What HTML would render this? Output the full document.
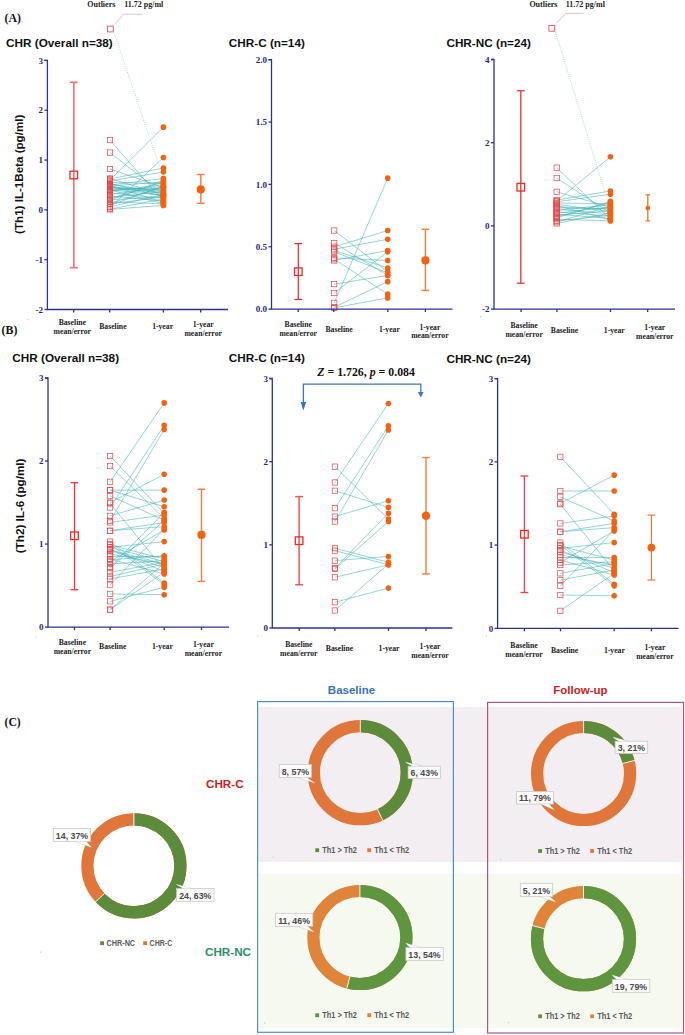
<!DOCTYPE html><html><head><meta charset="utf-8"><style>html,body{margin:0;padding:0;background:#fff;width:685px;height:1035px;overflow:hidden}svg{display:block}.ttl{font:bold 11.75px "Liberation Sans",sans-serif;fill:#111}.tk{font:bold 9px "Liberation Serif",serif;fill:#25287f;text-anchor:end}.xl{font:bold 7.7px "Liberation Serif",serif;fill:#222;text-anchor:middle}.ol{font:bold 8px "Liberation Serif",serif;fill:#222}.pl{font:bold 11px "Liberation Serif",serif;fill:#111}.dl{font:bold 8.8px "Liberation Sans",sans-serif;fill:#4a4a4a;text-anchor:middle}.lg{font:bold 8.3px "Liberation Sans",sans-serif;fill:#595959}.hd{font:bold 11px "Liberation Sans",sans-serif}</style></head><body>
<svg width="685" height="1035" viewBox="0 0 685 1035">
<rect width="685" height="1035" fill="#fff"/>
<text x="4.6" y="21.6" class="pl" style="font-size:11.8px">(A)</text>
<text x="1.6" y="334.4" class="pl" style="font-size:11.8px">(B)</text>
<text transform="translate(23.3,174.3) rotate(-90)" text-anchor="middle" style="font:bold 11.6px 'Liberation Sans',sans-serif;fill:#111">(Th1) IL-1Beta (pg/ml)</text>
<text transform="translate(23.6,505.9) rotate(-90)" text-anchor="middle" style="font:bold 11.7px 'Liberation Sans',sans-serif;fill:#111">(Th2) IL-6 (pg/ml)</text>
<line x1="110" y1="178.47" x2="163.4" y2="194.91" stroke="#3fb2b6" stroke-width="0.55"/>
<line x1="110" y1="183.46" x2="163.4" y2="196.41" stroke="#3fb2b6" stroke-width="0.55"/>
<line x1="110" y1="184.95" x2="163.4" y2="178.47" stroke="#3fb2b6" stroke-width="0.55"/>
<line x1="110" y1="185.95" x2="163.4" y2="181.96" stroke="#3fb2b6" stroke-width="0.55"/>
<line x1="110" y1="186.44" x2="163.4" y2="193.42" stroke="#3fb2b6" stroke-width="0.55"/>
<line x1="110" y1="186.94" x2="163.4" y2="195.41" stroke="#3fb2b6" stroke-width="0.55"/>
<line x1="110" y1="189.43" x2="163.4" y2="190.43" stroke="#3fb2b6" stroke-width="0.55"/>
<line x1="110" y1="189.93" x2="163.4" y2="203.88" stroke="#3fb2b6" stroke-width="0.55"/>
<line x1="110" y1="190.43" x2="163.4" y2="186.44" stroke="#3fb2b6" stroke-width="0.55"/>
<line x1="110" y1="199.90" x2="163.4" y2="196.41" stroke="#3fb2b6" stroke-width="0.55"/>
<line x1="110" y1="203.38" x2="163.4" y2="186.94" stroke="#3fb2b6" stroke-width="0.55"/>
<line x1="110" y1="207.37" x2="163.4" y2="157.55" stroke="#3fb2b6" stroke-width="0.55"/>
<line x1="110" y1="209.11" x2="163.4" y2="198.90" stroke="#3fb2b6" stroke-width="0.55"/>
<line x1="110" y1="209.36" x2="163.4" y2="205.38" stroke="#3fb2b6" stroke-width="0.55"/>
<line x1="110" y1="140.11" x2="163.4" y2="201.39" stroke="#3fb2b6" stroke-width="0.55"/>
<line x1="110" y1="152.57" x2="163.4" y2="194.42" stroke="#3fb2b6" stroke-width="0.55"/>
<line x1="110" y1="169.01" x2="163.4" y2="187.44" stroke="#3fb2b6" stroke-width="0.55"/>
<line x1="110" y1="178.97" x2="163.4" y2="168.01" stroke="#3fb2b6" stroke-width="0.55"/>
<line x1="110" y1="179.97" x2="163.4" y2="127.16" stroke="#3fb2b6" stroke-width="0.55"/>
<line x1="110" y1="180.96" x2="163.4" y2="172.00" stroke="#3fb2b6" stroke-width="0.55"/>
<line x1="110" y1="182.46" x2="163.4" y2="183.46" stroke="#3fb2b6" stroke-width="0.55"/>
<line x1="110" y1="183.95" x2="163.4" y2="192.92" stroke="#3fb2b6" stroke-width="0.55"/>
<line x1="110" y1="185.45" x2="163.4" y2="202.39" stroke="#3fb2b6" stroke-width="0.55"/>
<line x1="110" y1="186.94" x2="163.4" y2="189.93" stroke="#3fb2b6" stroke-width="0.55"/>
<line x1="110" y1="188.44" x2="163.4" y2="188.94" stroke="#3fb2b6" stroke-width="0.55"/>
<line x1="110" y1="189.93" x2="163.4" y2="195.41" stroke="#3fb2b6" stroke-width="0.55"/>
<line x1="110" y1="191.43" x2="163.4" y2="184.45" stroke="#3fb2b6" stroke-width="0.55"/>
<line x1="110" y1="192.92" x2="163.4" y2="198.40" stroke="#3fb2b6" stroke-width="0.55"/>
<line x1="110" y1="194.42" x2="163.4" y2="187.44" stroke="#3fb2b6" stroke-width="0.55"/>
<line x1="110" y1="195.91" x2="163.4" y2="200.89" stroke="#3fb2b6" stroke-width="0.55"/>
<line x1="110" y1="197.41" x2="163.4" y2="191.43" stroke="#3fb2b6" stroke-width="0.55"/>
<line x1="110" y1="198.90" x2="163.4" y2="181.96" stroke="#3fb2b6" stroke-width="0.55"/>
<line x1="110" y1="200.39" x2="163.4" y2="180.47" stroke="#3fb2b6" stroke-width="0.55"/>
<line x1="110" y1="201.89" x2="163.4" y2="203.88" stroke="#3fb2b6" stroke-width="0.55"/>
<line x1="110" y1="203.88" x2="163.4" y2="196.91" stroke="#3fb2b6" stroke-width="0.55"/>
<line x1="110" y1="205.38" x2="163.4" y2="185.95" stroke="#3fb2b6" stroke-width="0.55"/>
<line x1="110" y1="206.87" x2="163.4" y2="194.42" stroke="#3fb2b6" stroke-width="0.55"/>
<line x1="113.3" y1="30.5" x2="159.4" y2="166.52" stroke="#5aa9ae" stroke-width="0.6" stroke-dasharray="0.8 1.4"/>
<rect x="107.39999999999999" y="26.1" width="5.8" height="5.8" fill="none" stroke="#ea4444" stroke-width="0.8"/>
<polyline points="114.8,24 123.8,14.2 142.5,14.2" fill="none" stroke="#d4b8a6" stroke-width="0.8"/>
<text x="87.3" y="7" class="ol">Outliers</text>
<text x="124.2" y="7" class="ol">11.72 pg/ml</text>
<rect x="107.35" y="175.82" width="5.3" height="5.3" fill="none" stroke="#ea4444" stroke-width="0.7"/>
<rect x="107.35" y="180.81" width="5.3" height="5.3" fill="none" stroke="#ea4444" stroke-width="0.7"/>
<rect x="107.35" y="182.30" width="5.3" height="5.3" fill="none" stroke="#ea4444" stroke-width="0.7"/>
<rect x="107.35" y="183.30" width="5.3" height="5.3" fill="none" stroke="#ea4444" stroke-width="0.7"/>
<rect x="107.35" y="183.79" width="5.3" height="5.3" fill="none" stroke="#ea4444" stroke-width="0.7"/>
<rect x="107.35" y="184.29" width="5.3" height="5.3" fill="none" stroke="#ea4444" stroke-width="0.7"/>
<rect x="107.35" y="186.78" width="5.3" height="5.3" fill="none" stroke="#ea4444" stroke-width="0.7"/>
<rect x="107.35" y="187.28" width="5.3" height="5.3" fill="none" stroke="#ea4444" stroke-width="0.7"/>
<rect x="107.35" y="187.78" width="5.3" height="5.3" fill="none" stroke="#ea4444" stroke-width="0.7"/>
<rect x="107.35" y="197.25" width="5.3" height="5.3" fill="none" stroke="#ea4444" stroke-width="0.7"/>
<rect x="107.35" y="200.73" width="5.3" height="5.3" fill="none" stroke="#ea4444" stroke-width="0.7"/>
<rect x="107.35" y="204.72" width="5.3" height="5.3" fill="none" stroke="#ea4444" stroke-width="0.7"/>
<rect x="107.35" y="206.46" width="5.3" height="5.3" fill="none" stroke="#ea4444" stroke-width="0.7"/>
<rect x="107.35" y="206.71" width="5.3" height="5.3" fill="none" stroke="#ea4444" stroke-width="0.7"/>
<rect x="107.35" y="137.46" width="5.3" height="5.3" fill="none" stroke="#ea4444" stroke-width="0.7"/>
<rect x="107.35" y="149.92" width="5.3" height="5.3" fill="none" stroke="#ea4444" stroke-width="0.7"/>
<rect x="107.35" y="166.36" width="5.3" height="5.3" fill="none" stroke="#ea4444" stroke-width="0.7"/>
<rect x="107.35" y="176.32" width="5.3" height="5.3" fill="none" stroke="#ea4444" stroke-width="0.7"/>
<rect x="107.35" y="177.32" width="5.3" height="5.3" fill="none" stroke="#ea4444" stroke-width="0.7"/>
<rect x="107.35" y="178.31" width="5.3" height="5.3" fill="none" stroke="#ea4444" stroke-width="0.7"/>
<rect x="107.35" y="179.81" width="5.3" height="5.3" fill="none" stroke="#ea4444" stroke-width="0.7"/>
<rect x="107.35" y="181.30" width="5.3" height="5.3" fill="none" stroke="#ea4444" stroke-width="0.7"/>
<rect x="107.35" y="182.80" width="5.3" height="5.3" fill="none" stroke="#ea4444" stroke-width="0.7"/>
<rect x="107.35" y="184.29" width="5.3" height="5.3" fill="none" stroke="#ea4444" stroke-width="0.7"/>
<rect x="107.35" y="185.79" width="5.3" height="5.3" fill="none" stroke="#ea4444" stroke-width="0.7"/>
<rect x="107.35" y="187.28" width="5.3" height="5.3" fill="none" stroke="#ea4444" stroke-width="0.7"/>
<rect x="107.35" y="188.78" width="5.3" height="5.3" fill="none" stroke="#ea4444" stroke-width="0.7"/>
<rect x="107.35" y="190.27" width="5.3" height="5.3" fill="none" stroke="#ea4444" stroke-width="0.7"/>
<rect x="107.35" y="191.77" width="5.3" height="5.3" fill="none" stroke="#ea4444" stroke-width="0.7"/>
<rect x="107.35" y="193.26" width="5.3" height="5.3" fill="none" stroke="#ea4444" stroke-width="0.7"/>
<rect x="107.35" y="194.75" width="5.3" height="5.3" fill="none" stroke="#ea4444" stroke-width="0.7"/>
<rect x="107.35" y="196.25" width="5.3" height="5.3" fill="none" stroke="#ea4444" stroke-width="0.7"/>
<rect x="107.35" y="197.74" width="5.3" height="5.3" fill="none" stroke="#ea4444" stroke-width="0.7"/>
<rect x="107.35" y="199.24" width="5.3" height="5.3" fill="none" stroke="#ea4444" stroke-width="0.7"/>
<rect x="107.35" y="201.23" width="5.3" height="5.3" fill="none" stroke="#ea4444" stroke-width="0.7"/>
<rect x="107.35" y="202.73" width="5.3" height="5.3" fill="none" stroke="#ea4444" stroke-width="0.7"/>
<rect x="107.35" y="204.22" width="5.3" height="5.3" fill="none" stroke="#ea4444" stroke-width="0.7"/>
<circle cx="163.4" cy="194.91" r="2.8" fill="#f5620f"/>
<circle cx="163.4" cy="196.41" r="2.8" fill="#f5620f"/>
<circle cx="163.4" cy="178.47" r="2.8" fill="#f5620f"/>
<circle cx="163.4" cy="181.96" r="2.8" fill="#f5620f"/>
<circle cx="163.4" cy="193.42" r="2.8" fill="#f5620f"/>
<circle cx="163.4" cy="195.41" r="2.8" fill="#f5620f"/>
<circle cx="163.4" cy="190.43" r="2.8" fill="#f5620f"/>
<circle cx="163.4" cy="203.88" r="2.8" fill="#f5620f"/>
<circle cx="163.4" cy="186.44" r="2.8" fill="#f5620f"/>
<circle cx="163.4" cy="196.41" r="2.8" fill="#f5620f"/>
<circle cx="163.4" cy="186.94" r="2.8" fill="#f5620f"/>
<circle cx="163.4" cy="157.55" r="2.8" fill="#f5620f"/>
<circle cx="163.4" cy="198.90" r="2.8" fill="#f5620f"/>
<circle cx="163.4" cy="205.38" r="2.8" fill="#f5620f"/>
<circle cx="163.4" cy="201.39" r="2.8" fill="#f5620f"/>
<circle cx="163.4" cy="194.42" r="2.8" fill="#f5620f"/>
<circle cx="163.4" cy="187.44" r="2.8" fill="#f5620f"/>
<circle cx="163.4" cy="168.01" r="2.8" fill="#f5620f"/>
<circle cx="163.4" cy="127.16" r="2.8" fill="#f5620f"/>
<circle cx="163.4" cy="172.00" r="2.8" fill="#f5620f"/>
<circle cx="163.4" cy="183.46" r="2.8" fill="#f5620f"/>
<circle cx="163.4" cy="192.92" r="2.8" fill="#f5620f"/>
<circle cx="163.4" cy="202.39" r="2.8" fill="#f5620f"/>
<circle cx="163.4" cy="189.93" r="2.8" fill="#f5620f"/>
<circle cx="163.4" cy="188.94" r="2.8" fill="#f5620f"/>
<circle cx="163.4" cy="195.41" r="2.8" fill="#f5620f"/>
<circle cx="163.4" cy="184.45" r="2.8" fill="#f5620f"/>
<circle cx="163.4" cy="198.40" r="2.8" fill="#f5620f"/>
<circle cx="163.4" cy="187.44" r="2.8" fill="#f5620f"/>
<circle cx="163.4" cy="200.89" r="2.8" fill="#f5620f"/>
<circle cx="163.4" cy="191.43" r="2.8" fill="#f5620f"/>
<circle cx="163.4" cy="181.96" r="2.8" fill="#f5620f"/>
<circle cx="163.4" cy="180.47" r="2.8" fill="#f5620f"/>
<circle cx="163.4" cy="203.88" r="2.8" fill="#f5620f"/>
<circle cx="163.4" cy="196.91" r="2.8" fill="#f5620f"/>
<circle cx="163.4" cy="185.95" r="2.8" fill="#f5620f"/>
<circle cx="163.4" cy="194.42" r="2.8" fill="#f5620f"/>
<g stroke="#f36e6e" stroke-width="1.6" fill="none"><line x1="73.8" y1="82.32" x2="73.8" y2="267.65"/><line x1="69.89999999999999" y1="82.32" x2="77.7" y2="82.32"/><line x1="69.89999999999999" y1="267.65" x2="77.7" y2="267.65"/></g>
<rect x="70.0" y="171.19" width="7.6" height="7.6" fill="none" stroke="#ee2a24" stroke-width="1.3"/>
<g stroke="#f3813f" stroke-width="1.45" fill="none"><line x1="200.8" y1="174.49" x2="200.8" y2="203.38"/><line x1="196.9" y1="174.49" x2="204.70000000000002" y2="174.49"/><line x1="196.9" y1="203.38" x2="204.70000000000002" y2="203.38"/></g>
<circle cx="200.8" cy="189.43" r="4.1" fill="#f5620f"/>
<g stroke="#2e3192" stroke-width="1.3" fill="none"><polyline points="44.4,60.4 47.4,60.4 47.4,309.5 228,309.5"/>
<line x1="44.4" y1="60.40" x2="47.4" y2="60.40"/>
<line x1="44.4" y1="110.22" x2="47.4" y2="110.22"/>
<line x1="44.4" y1="160.04" x2="47.4" y2="160.04"/>
<line x1="44.4" y1="209.86" x2="47.4" y2="209.86"/>
<line x1="44.4" y1="259.68" x2="47.4" y2="259.68"/>
<line x1="44.4" y1="309.50" x2="47.4" y2="309.50"/>
<line x1="73.7" y1="309.5" x2="73.7" y2="312.5"/>
<line x1="109.7" y1="309.5" x2="109.7" y2="312.5"/>
<line x1="163.4" y1="309.5" x2="163.4" y2="312.5"/>
<line x1="200.7" y1="309.5" x2="200.7" y2="312.5"/>
</g>
<text x="43.0" y="63.65" class="tk">3</text>
<text x="43.0" y="113.47" class="tk">2</text>
<text x="43.0" y="163.29" class="tk">1</text>
<text x="43.0" y="213.11" class="tk">0</text>
<text x="43.0" y="262.93" class="tk">-1</text>
<text x="43.0" y="312.75" class="tk">-2</text>
<text x="72.3" y="325.1" class="xl">Baseline</text>
<text x="72.3" y="333.6" class="xl">mean/error</text>
<text x="112.9" y="329.20000000000005" class="xl">Baseline</text>
<text x="162.6" y="329.20000000000005" class="xl">1-year</text>
<text x="203.2" y="326.8" class="xl">1-year</text>
<text x="203.2" y="335.6" class="xl">mean/error</text>
<text x="6" y="47" class="ttl">CHR (Overall n=38)</text>
<line x1="334.2" y1="230.54" x2="387.7" y2="271.69" stroke="#3fb2b6" stroke-width="0.55"/>
<line x1="334.2" y1="243.01" x2="387.7" y2="275.43" stroke="#3fb2b6" stroke-width="0.55"/>
<line x1="334.2" y1="246.75" x2="387.7" y2="230.54" stroke="#3fb2b6" stroke-width="0.55"/>
<line x1="334.2" y1="249.24" x2="387.7" y2="239.27" stroke="#3fb2b6" stroke-width="0.55"/>
<line x1="334.2" y1="250.49" x2="387.7" y2="267.95" stroke="#3fb2b6" stroke-width="0.55"/>
<line x1="334.2" y1="251.74" x2="387.7" y2="272.94" stroke="#3fb2b6" stroke-width="0.55"/>
<line x1="334.2" y1="257.97" x2="387.7" y2="260.47" stroke="#3fb2b6" stroke-width="0.55"/>
<line x1="334.2" y1="259.22" x2="387.7" y2="294.14" stroke="#3fb2b6" stroke-width="0.55"/>
<line x1="334.2" y1="260.47" x2="387.7" y2="250.49" stroke="#3fb2b6" stroke-width="0.55"/>
<line x1="334.2" y1="284.16" x2="387.7" y2="275.43" stroke="#3fb2b6" stroke-width="0.55"/>
<line x1="334.2" y1="292.89" x2="387.7" y2="251.74" stroke="#3fb2b6" stroke-width="0.55"/>
<line x1="334.2" y1="302.87" x2="387.7" y2="178.17" stroke="#3fb2b6" stroke-width="0.55"/>
<line x1="334.2" y1="307.23" x2="387.7" y2="281.67" stroke="#3fb2b6" stroke-width="0.55"/>
<line x1="334.2" y1="307.85" x2="387.7" y2="297.88" stroke="#3fb2b6" stroke-width="0.55"/>
<rect x="331.55" y="227.89" width="5.3" height="5.3" fill="none" stroke="#ea4444" stroke-width="0.7"/>
<rect x="331.55" y="240.36" width="5.3" height="5.3" fill="none" stroke="#ea4444" stroke-width="0.7"/>
<rect x="331.55" y="244.10" width="5.3" height="5.3" fill="none" stroke="#ea4444" stroke-width="0.7"/>
<rect x="331.55" y="246.59" width="5.3" height="5.3" fill="none" stroke="#ea4444" stroke-width="0.7"/>
<rect x="331.55" y="247.84" width="5.3" height="5.3" fill="none" stroke="#ea4444" stroke-width="0.7"/>
<rect x="331.55" y="249.09" width="5.3" height="5.3" fill="none" stroke="#ea4444" stroke-width="0.7"/>
<rect x="331.55" y="255.32" width="5.3" height="5.3" fill="none" stroke="#ea4444" stroke-width="0.7"/>
<rect x="331.55" y="256.57" width="5.3" height="5.3" fill="none" stroke="#ea4444" stroke-width="0.7"/>
<rect x="331.55" y="257.82" width="5.3" height="5.3" fill="none" stroke="#ea4444" stroke-width="0.7"/>
<rect x="331.55" y="281.51" width="5.3" height="5.3" fill="none" stroke="#ea4444" stroke-width="0.7"/>
<rect x="331.55" y="290.24" width="5.3" height="5.3" fill="none" stroke="#ea4444" stroke-width="0.7"/>
<rect x="331.55" y="300.22" width="5.3" height="5.3" fill="none" stroke="#ea4444" stroke-width="0.7"/>
<rect x="331.55" y="304.58" width="5.3" height="5.3" fill="none" stroke="#ea4444" stroke-width="0.7"/>
<rect x="331.55" y="305.20" width="5.3" height="5.3" fill="none" stroke="#ea4444" stroke-width="0.7"/>
<circle cx="387.7" cy="271.69" r="2.8" fill="#f5620f"/>
<circle cx="387.7" cy="275.43" r="2.8" fill="#f5620f"/>
<circle cx="387.7" cy="230.54" r="2.8" fill="#f5620f"/>
<circle cx="387.7" cy="239.27" r="2.8" fill="#f5620f"/>
<circle cx="387.7" cy="267.95" r="2.8" fill="#f5620f"/>
<circle cx="387.7" cy="272.94" r="2.8" fill="#f5620f"/>
<circle cx="387.7" cy="260.47" r="2.8" fill="#f5620f"/>
<circle cx="387.7" cy="294.14" r="2.8" fill="#f5620f"/>
<circle cx="387.7" cy="250.49" r="2.8" fill="#f5620f"/>
<circle cx="387.7" cy="275.43" r="2.8" fill="#f5620f"/>
<circle cx="387.7" cy="251.74" r="2.8" fill="#f5620f"/>
<circle cx="387.7" cy="178.17" r="2.8" fill="#f5620f"/>
<circle cx="387.7" cy="281.67" r="2.8" fill="#f5620f"/>
<circle cx="387.7" cy="297.88" r="2.8" fill="#f5620f"/>
<g stroke="#f12a2a" stroke-width="1.25" fill="none"><line x1="298.3" y1="243.63" x2="298.3" y2="299.50"/><line x1="294.40000000000003" y1="243.63" x2="302.2" y2="243.63"/><line x1="294.40000000000003" y1="299.50" x2="302.2" y2="299.50"/></g>
<rect x="294.5" y="267.89" width="7.6" height="7.6" fill="none" stroke="#ee2a24" stroke-width="1.3"/>
<g stroke="#f3813f" stroke-width="1.45" fill="none"><line x1="425.4" y1="229.29" x2="425.4" y2="290.40"/><line x1="421.5" y1="229.29" x2="429.29999999999995" y2="229.29"/><line x1="421.5" y1="290.40" x2="429.29999999999995" y2="290.40"/></g>
<circle cx="425.4" cy="260.47" r="4.1" fill="#f5620f"/>
<g stroke="#2e3192" stroke-width="1.3" fill="none"><polyline points="268.5,59.7 271.5,59.7 271.5,309.1 452.5,309.1"/>
<line x1="268.5" y1="59.70" x2="271.5" y2="59.70"/>
<line x1="268.5" y1="122.05" x2="271.5" y2="122.05"/>
<line x1="268.5" y1="184.40" x2="271.5" y2="184.40"/>
<line x1="268.5" y1="246.75" x2="271.5" y2="246.75"/>
<line x1="268.5" y1="309.10" x2="271.5" y2="309.10"/>
<line x1="298.2" y1="309.1" x2="298.2" y2="312.1"/>
<line x1="333.8" y1="309.1" x2="333.8" y2="312.1"/>
<line x1="387.8" y1="309.1" x2="387.8" y2="312.1"/>
<line x1="425.4" y1="309.1" x2="425.4" y2="312.1"/>
</g>
<text x="267.1" y="62.95" class="tk">2.0</text>
<text x="267.1" y="125.30" class="tk">1.5</text>
<text x="267.1" y="187.65" class="tk">1.0</text>
<text x="267.1" y="250.00" class="tk">0.5</text>
<text x="267.1" y="312.35" class="tk">0.0</text>
<text x="298.2" y="327.20000000000005" class="xl">Baseline</text>
<text x="298.2" y="336.1" class="xl">mean/error</text>
<text x="339.1" y="331.6" class="xl">Baseline</text>
<text x="389.4" y="331.6" class="xl">1-year</text>
<text x="429.9" y="329.5" class="xl">1-year</text>
<text x="429.9" y="338.0" class="xl">mean/error</text>
<text x="228.8" y="47" class="ttl">CHR-C (n=14)</text>
<line x1="556.7" y1="167.66" x2="610.4" y2="218.83" stroke="#3fb2b6" stroke-width="0.55"/>
<line x1="556.7" y1="178.06" x2="610.4" y2="213.00" stroke="#3fb2b6" stroke-width="0.55"/>
<line x1="556.7" y1="191.79" x2="610.4" y2="207.18" stroke="#3fb2b6" stroke-width="0.55"/>
<line x1="556.7" y1="200.11" x2="610.4" y2="190.96" stroke="#3fb2b6" stroke-width="0.55"/>
<line x1="556.7" y1="200.94" x2="610.4" y2="156.84" stroke="#3fb2b6" stroke-width="0.55"/>
<line x1="556.7" y1="201.77" x2="610.4" y2="194.28" stroke="#3fb2b6" stroke-width="0.55"/>
<line x1="556.7" y1="203.02" x2="610.4" y2="203.85" stroke="#3fb2b6" stroke-width="0.55"/>
<line x1="556.7" y1="204.27" x2="610.4" y2="211.76" stroke="#3fb2b6" stroke-width="0.55"/>
<line x1="556.7" y1="205.52" x2="610.4" y2="219.66" stroke="#3fb2b6" stroke-width="0.55"/>
<line x1="556.7" y1="206.76" x2="610.4" y2="209.26" stroke="#3fb2b6" stroke-width="0.55"/>
<line x1="556.7" y1="208.01" x2="610.4" y2="208.43" stroke="#3fb2b6" stroke-width="0.55"/>
<line x1="556.7" y1="209.26" x2="610.4" y2="213.84" stroke="#3fb2b6" stroke-width="0.55"/>
<line x1="556.7" y1="210.51" x2="610.4" y2="204.68" stroke="#3fb2b6" stroke-width="0.55"/>
<line x1="556.7" y1="211.76" x2="610.4" y2="216.33" stroke="#3fb2b6" stroke-width="0.55"/>
<line x1="556.7" y1="213.00" x2="610.4" y2="207.18" stroke="#3fb2b6" stroke-width="0.55"/>
<line x1="556.7" y1="214.25" x2="610.4" y2="218.41" stroke="#3fb2b6" stroke-width="0.55"/>
<line x1="556.7" y1="215.50" x2="610.4" y2="210.51" stroke="#3fb2b6" stroke-width="0.55"/>
<line x1="556.7" y1="216.75" x2="610.4" y2="202.60" stroke="#3fb2b6" stroke-width="0.55"/>
<line x1="556.7" y1="218.00" x2="610.4" y2="201.36" stroke="#3fb2b6" stroke-width="0.55"/>
<line x1="556.7" y1="219.24" x2="610.4" y2="220.91" stroke="#3fb2b6" stroke-width="0.55"/>
<line x1="556.7" y1="220.91" x2="610.4" y2="215.08" stroke="#3fb2b6" stroke-width="0.55"/>
<line x1="556.7" y1="222.16" x2="610.4" y2="205.93" stroke="#3fb2b6" stroke-width="0.55"/>
<line x1="556.7" y1="223.40" x2="610.4" y2="213.00" stroke="#3fb2b6" stroke-width="0.55"/>
<line x1="554.8" y1="29.8" x2="606.4" y2="196.78" stroke="#5aa9ae" stroke-width="0.6" stroke-dasharray="0.8 1.4"/>
<rect x="548.9" y="25.400000000000002" width="5.8" height="5.8" fill="none" stroke="#ea4444" stroke-width="0.8"/>
<polyline points="556.3,23.3 565.8,13.4 583.6,13.4" fill="none" stroke="#d4b8a6" stroke-width="0.8"/>
<text x="529.4" y="7" class="ol">Outliers</text>
<text x="565.8" y="7" class="ol">11.72 pg/ml</text>
<rect x="554.05" y="165.01" width="5.3" height="5.3" fill="none" stroke="#ea4444" stroke-width="0.7"/>
<rect x="554.05" y="175.41" width="5.3" height="5.3" fill="none" stroke="#ea4444" stroke-width="0.7"/>
<rect x="554.05" y="189.14" width="5.3" height="5.3" fill="none" stroke="#ea4444" stroke-width="0.7"/>
<rect x="554.05" y="197.46" width="5.3" height="5.3" fill="none" stroke="#ea4444" stroke-width="0.7"/>
<rect x="554.05" y="198.29" width="5.3" height="5.3" fill="none" stroke="#ea4444" stroke-width="0.7"/>
<rect x="554.05" y="199.12" width="5.3" height="5.3" fill="none" stroke="#ea4444" stroke-width="0.7"/>
<rect x="554.05" y="200.37" width="5.3" height="5.3" fill="none" stroke="#ea4444" stroke-width="0.7"/>
<rect x="554.05" y="201.62" width="5.3" height="5.3" fill="none" stroke="#ea4444" stroke-width="0.7"/>
<rect x="554.05" y="202.87" width="5.3" height="5.3" fill="none" stroke="#ea4444" stroke-width="0.7"/>
<rect x="554.05" y="204.11" width="5.3" height="5.3" fill="none" stroke="#ea4444" stroke-width="0.7"/>
<rect x="554.05" y="205.36" width="5.3" height="5.3" fill="none" stroke="#ea4444" stroke-width="0.7"/>
<rect x="554.05" y="206.61" width="5.3" height="5.3" fill="none" stroke="#ea4444" stroke-width="0.7"/>
<rect x="554.05" y="207.86" width="5.3" height="5.3" fill="none" stroke="#ea4444" stroke-width="0.7"/>
<rect x="554.05" y="209.11" width="5.3" height="5.3" fill="none" stroke="#ea4444" stroke-width="0.7"/>
<rect x="554.05" y="210.35" width="5.3" height="5.3" fill="none" stroke="#ea4444" stroke-width="0.7"/>
<rect x="554.05" y="211.60" width="5.3" height="5.3" fill="none" stroke="#ea4444" stroke-width="0.7"/>
<rect x="554.05" y="212.85" width="5.3" height="5.3" fill="none" stroke="#ea4444" stroke-width="0.7"/>
<rect x="554.05" y="214.10" width="5.3" height="5.3" fill="none" stroke="#ea4444" stroke-width="0.7"/>
<rect x="554.05" y="215.35" width="5.3" height="5.3" fill="none" stroke="#ea4444" stroke-width="0.7"/>
<rect x="554.05" y="216.59" width="5.3" height="5.3" fill="none" stroke="#ea4444" stroke-width="0.7"/>
<rect x="554.05" y="218.26" width="5.3" height="5.3" fill="none" stroke="#ea4444" stroke-width="0.7"/>
<rect x="554.05" y="219.51" width="5.3" height="5.3" fill="none" stroke="#ea4444" stroke-width="0.7"/>
<rect x="554.05" y="220.75" width="5.3" height="5.3" fill="none" stroke="#ea4444" stroke-width="0.7"/>
<circle cx="610.4" cy="218.83" r="2.8" fill="#f5620f"/>
<circle cx="610.4" cy="213.00" r="2.8" fill="#f5620f"/>
<circle cx="610.4" cy="207.18" r="2.8" fill="#f5620f"/>
<circle cx="610.4" cy="190.96" r="2.8" fill="#f5620f"/>
<circle cx="610.4" cy="156.84" r="2.8" fill="#f5620f"/>
<circle cx="610.4" cy="194.28" r="2.8" fill="#f5620f"/>
<circle cx="610.4" cy="203.85" r="2.8" fill="#f5620f"/>
<circle cx="610.4" cy="211.76" r="2.8" fill="#f5620f"/>
<circle cx="610.4" cy="219.66" r="2.8" fill="#f5620f"/>
<circle cx="610.4" cy="209.26" r="2.8" fill="#f5620f"/>
<circle cx="610.4" cy="208.43" r="2.8" fill="#f5620f"/>
<circle cx="610.4" cy="213.84" r="2.8" fill="#f5620f"/>
<circle cx="610.4" cy="204.68" r="2.8" fill="#f5620f"/>
<circle cx="610.4" cy="216.33" r="2.8" fill="#f5620f"/>
<circle cx="610.4" cy="207.18" r="2.8" fill="#f5620f"/>
<circle cx="610.4" cy="218.41" r="2.8" fill="#f5620f"/>
<circle cx="610.4" cy="210.51" r="2.8" fill="#f5620f"/>
<circle cx="610.4" cy="202.60" r="2.8" fill="#f5620f"/>
<circle cx="610.4" cy="201.36" r="2.8" fill="#f5620f"/>
<circle cx="610.4" cy="220.91" r="2.8" fill="#f5620f"/>
<circle cx="610.4" cy="215.08" r="2.8" fill="#f5620f"/>
<circle cx="610.4" cy="205.93" r="2.8" fill="#f5620f"/>
<circle cx="610.4" cy="213.00" r="2.8" fill="#f5620f"/>
<g stroke="#f04a4a" stroke-width="1.5" fill="none"><line x1="520.8" y1="90.70" x2="520.8" y2="283.31"/><line x1="516.9" y1="90.70" x2="524.6999999999999" y2="90.70"/><line x1="516.9" y1="283.31" x2="524.6999999999999" y2="283.31"/></g>
<rect x="517.0" y="183.41" width="7.6" height="7.6" fill="none" stroke="#ee2a24" stroke-width="1.3"/>
<g stroke="#f3813f" stroke-width="1.45" fill="none"><line x1="647.8" y1="194.70" x2="647.8" y2="220.91"/><line x1="645.5" y1="194.70" x2="650.0999999999999" y2="194.70"/><line x1="645.5" y1="220.91" x2="650.0999999999999" y2="220.91"/></g>
<circle cx="647.8" cy="208.01" r="2.35" fill="#f5620f"/>
<g stroke="#2e3192" stroke-width="1.3" fill="none"><polyline points="491,59.5 494,59.5 494,309.1 675,309.1"/>
<line x1="491" y1="59.50" x2="494" y2="59.50"/>
<line x1="491" y1="142.70" x2="494" y2="142.70"/>
<line x1="491" y1="225.90" x2="494" y2="225.90"/>
<line x1="491" y1="309.10" x2="494" y2="309.10"/>
<line x1="521.1" y1="309.1" x2="521.1" y2="312.1"/>
<line x1="556.9" y1="309.1" x2="556.9" y2="312.1"/>
<line x1="610.5" y1="309.1" x2="610.5" y2="312.1"/>
<line x1="647.7" y1="309.1" x2="647.7" y2="312.1"/>
</g>
<text x="489.6" y="62.75" class="tk">4</text>
<text x="489.6" y="145.95" class="tk">2</text>
<text x="489.6" y="229.15" class="tk">0</text>
<text x="489.6" y="312.35" class="tk">-2</text>
<text x="524.1" y="328.40000000000003" class="xl">Baseline</text>
<text x="524.1" y="337.20000000000005" class="xl">mean/error</text>
<text x="564.5" y="332.90000000000003" class="xl">Baseline</text>
<text x="614.3" y="333.20000000000005" class="xl">1-year</text>
<text x="654.8" y="330.3" class="xl">1-year</text>
<text x="654.8" y="339.1" class="xl">mean/error</text>
<text x="446.4" y="47" class="ttl">CHR-NC (n=24)</text>
<line x1="110.1" y1="466.02" x2="164.2" y2="518.33" stroke="#3fb2b6" stroke-width="0.55"/>
<line x1="110.1" y1="481.79" x2="164.2" y2="402.91" stroke="#3fb2b6" stroke-width="0.55"/>
<line x1="110.1" y1="490.10" x2="164.2" y2="506.70" stroke="#3fb2b6" stroke-width="0.55"/>
<line x1="110.1" y1="507.53" x2="164.2" y2="425.33" stroke="#3fb2b6" stroke-width="0.55"/>
<line x1="110.1" y1="515.84" x2="164.2" y2="500.06" stroke="#3fb2b6" stroke-width="0.55"/>
<line x1="110.1" y1="520.82" x2="164.2" y2="429.48" stroke="#3fb2b6" stroke-width="0.55"/>
<line x1="110.1" y1="547.39" x2="164.2" y2="561.50" stroke="#3fb2b6" stroke-width="0.55"/>
<line x1="110.1" y1="549.88" x2="164.2" y2="563.99" stroke="#3fb2b6" stroke-width="0.55"/>
<line x1="110.1" y1="559.84" x2="164.2" y2="555.69" stroke="#3fb2b6" stroke-width="0.55"/>
<line x1="110.1" y1="567.32" x2="164.2" y2="512.51" stroke="#3fb2b6" stroke-width="0.55"/>
<line x1="110.1" y1="568.15" x2="164.2" y2="520.82" stroke="#3fb2b6" stroke-width="0.55"/>
<line x1="110.1" y1="576.45" x2="164.2" y2="563.99" stroke="#3fb2b6" stroke-width="0.55"/>
<line x1="110.1" y1="601.36" x2="164.2" y2="587.24" stroke="#3fb2b6" stroke-width="0.55"/>
<line x1="110.1" y1="609.66" x2="164.2" y2="563.16" stroke="#3fb2b6" stroke-width="0.55"/>
<line x1="110.1" y1="456.05" x2="164.2" y2="513.34" stroke="#3fb2b6" stroke-width="0.55"/>
<line x1="110.1" y1="490.10" x2="164.2" y2="490.10" stroke="#3fb2b6" stroke-width="0.55"/>
<line x1="110.1" y1="495.91" x2="164.2" y2="519.99" stroke="#3fb2b6" stroke-width="0.55"/>
<line x1="110.1" y1="502.55" x2="164.2" y2="474.32" stroke="#3fb2b6" stroke-width="0.55"/>
<line x1="110.1" y1="503.38" x2="164.2" y2="569.81" stroke="#3fb2b6" stroke-width="0.55"/>
<line x1="110.1" y1="522.48" x2="164.2" y2="515.00" stroke="#3fb2b6" stroke-width="0.55"/>
<line x1="110.1" y1="530.78" x2="164.2" y2="522.48" stroke="#3fb2b6" stroke-width="0.55"/>
<line x1="110.1" y1="530.78" x2="164.2" y2="526.63" stroke="#3fb2b6" stroke-width="0.55"/>
<line x1="110.1" y1="541.58" x2="164.2" y2="583.09" stroke="#3fb2b6" stroke-width="0.55"/>
<line x1="110.1" y1="544.07" x2="164.2" y2="584.75" stroke="#3fb2b6" stroke-width="0.55"/>
<line x1="110.1" y1="547.39" x2="164.2" y2="541.58" stroke="#3fb2b6" stroke-width="0.55"/>
<line x1="110.1" y1="550.71" x2="164.2" y2="567.32" stroke="#3fb2b6" stroke-width="0.55"/>
<line x1="110.1" y1="554.03" x2="164.2" y2="563.99" stroke="#3fb2b6" stroke-width="0.55"/>
<line x1="110.1" y1="556.52" x2="164.2" y2="556.52" stroke="#3fb2b6" stroke-width="0.55"/>
<line x1="110.1" y1="559.01" x2="164.2" y2="573.96" stroke="#3fb2b6" stroke-width="0.55"/>
<line x1="110.1" y1="561.50" x2="164.2" y2="529.95" stroke="#3fb2b6" stroke-width="0.55"/>
<line x1="110.1" y1="563.99" x2="164.2" y2="560.67" stroke="#3fb2b6" stroke-width="0.55"/>
<line x1="110.1" y1="572.30" x2="164.2" y2="562.33" stroke="#3fb2b6" stroke-width="0.55"/>
<line x1="110.1" y1="578.94" x2="164.2" y2="568.98" stroke="#3fb2b6" stroke-width="0.55"/>
<line x1="110.1" y1="584.75" x2="164.2" y2="529.12" stroke="#3fb2b6" stroke-width="0.55"/>
<line x1="110.1" y1="593.89" x2="164.2" y2="594.72" stroke="#3fb2b6" stroke-width="0.55"/>
<line x1="110.1" y1="609.66" x2="164.2" y2="572.30" stroke="#3fb2b6" stroke-width="0.55"/>
<line x1="110.1" y1="544.90" x2="164.2" y2="559.01" stroke="#3fb2b6" stroke-width="0.55"/>
<line x1="110.1" y1="549.05" x2="164.2" y2="571.47" stroke="#3fb2b6" stroke-width="0.55"/>
<rect x="107.45" y="463.37" width="5.3" height="5.3" fill="none" stroke="#ea4444" stroke-width="0.7"/>
<rect x="107.45" y="479.14" width="5.3" height="5.3" fill="none" stroke="#ea4444" stroke-width="0.7"/>
<rect x="107.45" y="487.45" width="5.3" height="5.3" fill="none" stroke="#ea4444" stroke-width="0.7"/>
<rect x="107.45" y="504.88" width="5.3" height="5.3" fill="none" stroke="#ea4444" stroke-width="0.7"/>
<rect x="107.45" y="513.19" width="5.3" height="5.3" fill="none" stroke="#ea4444" stroke-width="0.7"/>
<rect x="107.45" y="518.17" width="5.3" height="5.3" fill="none" stroke="#ea4444" stroke-width="0.7"/>
<rect x="107.45" y="544.74" width="5.3" height="5.3" fill="none" stroke="#ea4444" stroke-width="0.7"/>
<rect x="107.45" y="547.23" width="5.3" height="5.3" fill="none" stroke="#ea4444" stroke-width="0.7"/>
<rect x="107.45" y="557.19" width="5.3" height="5.3" fill="none" stroke="#ea4444" stroke-width="0.7"/>
<rect x="107.45" y="564.67" width="5.3" height="5.3" fill="none" stroke="#ea4444" stroke-width="0.7"/>
<rect x="107.45" y="565.50" width="5.3" height="5.3" fill="none" stroke="#ea4444" stroke-width="0.7"/>
<rect x="107.45" y="573.80" width="5.3" height="5.3" fill="none" stroke="#ea4444" stroke-width="0.7"/>
<rect x="107.45" y="598.71" width="5.3" height="5.3" fill="none" stroke="#ea4444" stroke-width="0.7"/>
<rect x="107.45" y="607.01" width="5.3" height="5.3" fill="none" stroke="#ea4444" stroke-width="0.7"/>
<rect x="107.45" y="453.40" width="5.3" height="5.3" fill="none" stroke="#ea4444" stroke-width="0.7"/>
<rect x="107.45" y="487.45" width="5.3" height="5.3" fill="none" stroke="#ea4444" stroke-width="0.7"/>
<rect x="107.45" y="493.26" width="5.3" height="5.3" fill="none" stroke="#ea4444" stroke-width="0.7"/>
<rect x="107.45" y="499.90" width="5.3" height="5.3" fill="none" stroke="#ea4444" stroke-width="0.7"/>
<rect x="107.45" y="500.73" width="5.3" height="5.3" fill="none" stroke="#ea4444" stroke-width="0.7"/>
<rect x="107.45" y="519.83" width="5.3" height="5.3" fill="none" stroke="#ea4444" stroke-width="0.7"/>
<rect x="107.45" y="528.13" width="5.3" height="5.3" fill="none" stroke="#ea4444" stroke-width="0.7"/>
<rect x="107.45" y="528.13" width="5.3" height="5.3" fill="none" stroke="#ea4444" stroke-width="0.7"/>
<rect x="107.45" y="538.93" width="5.3" height="5.3" fill="none" stroke="#ea4444" stroke-width="0.7"/>
<rect x="107.45" y="541.42" width="5.3" height="5.3" fill="none" stroke="#ea4444" stroke-width="0.7"/>
<rect x="107.45" y="544.74" width="5.3" height="5.3" fill="none" stroke="#ea4444" stroke-width="0.7"/>
<rect x="107.45" y="548.06" width="5.3" height="5.3" fill="none" stroke="#ea4444" stroke-width="0.7"/>
<rect x="107.45" y="551.38" width="5.3" height="5.3" fill="none" stroke="#ea4444" stroke-width="0.7"/>
<rect x="107.45" y="553.87" width="5.3" height="5.3" fill="none" stroke="#ea4444" stroke-width="0.7"/>
<rect x="107.45" y="556.36" width="5.3" height="5.3" fill="none" stroke="#ea4444" stroke-width="0.7"/>
<rect x="107.45" y="558.85" width="5.3" height="5.3" fill="none" stroke="#ea4444" stroke-width="0.7"/>
<rect x="107.45" y="561.34" width="5.3" height="5.3" fill="none" stroke="#ea4444" stroke-width="0.7"/>
<rect x="107.45" y="569.65" width="5.3" height="5.3" fill="none" stroke="#ea4444" stroke-width="0.7"/>
<rect x="107.45" y="576.29" width="5.3" height="5.3" fill="none" stroke="#ea4444" stroke-width="0.7"/>
<rect x="107.45" y="582.10" width="5.3" height="5.3" fill="none" stroke="#ea4444" stroke-width="0.7"/>
<rect x="107.45" y="591.24" width="5.3" height="5.3" fill="none" stroke="#ea4444" stroke-width="0.7"/>
<rect x="107.45" y="607.01" width="5.3" height="5.3" fill="none" stroke="#ea4444" stroke-width="0.7"/>
<rect x="107.45" y="542.25" width="5.3" height="5.3" fill="none" stroke="#ea4444" stroke-width="0.7"/>
<rect x="107.45" y="546.40" width="5.3" height="5.3" fill="none" stroke="#ea4444" stroke-width="0.7"/>
<circle cx="164.2" cy="518.33" r="2.8" fill="#f5620f"/>
<circle cx="164.2" cy="402.91" r="2.8" fill="#f5620f"/>
<circle cx="164.2" cy="506.70" r="2.8" fill="#f5620f"/>
<circle cx="164.2" cy="425.33" r="2.8" fill="#f5620f"/>
<circle cx="164.2" cy="500.06" r="2.8" fill="#f5620f"/>
<circle cx="164.2" cy="429.48" r="2.8" fill="#f5620f"/>
<circle cx="164.2" cy="561.50" r="2.8" fill="#f5620f"/>
<circle cx="164.2" cy="563.99" r="2.8" fill="#f5620f"/>
<circle cx="164.2" cy="555.69" r="2.8" fill="#f5620f"/>
<circle cx="164.2" cy="512.51" r="2.8" fill="#f5620f"/>
<circle cx="164.2" cy="520.82" r="2.8" fill="#f5620f"/>
<circle cx="164.2" cy="563.99" r="2.8" fill="#f5620f"/>
<circle cx="164.2" cy="587.24" r="2.8" fill="#f5620f"/>
<circle cx="164.2" cy="563.16" r="2.8" fill="#f5620f"/>
<circle cx="164.2" cy="513.34" r="2.8" fill="#f5620f"/>
<circle cx="164.2" cy="490.10" r="2.8" fill="#f5620f"/>
<circle cx="164.2" cy="519.99" r="2.8" fill="#f5620f"/>
<circle cx="164.2" cy="474.32" r="2.8" fill="#f5620f"/>
<circle cx="164.2" cy="569.81" r="2.8" fill="#f5620f"/>
<circle cx="164.2" cy="515.00" r="2.8" fill="#f5620f"/>
<circle cx="164.2" cy="522.48" r="2.8" fill="#f5620f"/>
<circle cx="164.2" cy="526.63" r="2.8" fill="#f5620f"/>
<circle cx="164.2" cy="583.09" r="2.8" fill="#f5620f"/>
<circle cx="164.2" cy="584.75" r="2.8" fill="#f5620f"/>
<circle cx="164.2" cy="541.58" r="2.8" fill="#f5620f"/>
<circle cx="164.2" cy="567.32" r="2.8" fill="#f5620f"/>
<circle cx="164.2" cy="563.99" r="2.8" fill="#f5620f"/>
<circle cx="164.2" cy="556.52" r="2.8" fill="#f5620f"/>
<circle cx="164.2" cy="573.96" r="2.8" fill="#f5620f"/>
<circle cx="164.2" cy="529.95" r="2.8" fill="#f5620f"/>
<circle cx="164.2" cy="560.67" r="2.8" fill="#f5620f"/>
<circle cx="164.2" cy="562.33" r="2.8" fill="#f5620f"/>
<circle cx="164.2" cy="568.98" r="2.8" fill="#f5620f"/>
<circle cx="164.2" cy="529.12" r="2.8" fill="#f5620f"/>
<circle cx="164.2" cy="594.72" r="2.8" fill="#f5620f"/>
<circle cx="164.2" cy="572.30" r="2.8" fill="#f5620f"/>
<circle cx="164.2" cy="559.01" r="2.8" fill="#f5620f"/>
<circle cx="164.2" cy="571.47" r="2.8" fill="#f5620f"/>
<g stroke="#f43434" stroke-width="1.3" fill="none"><line x1="74.5" y1="482.62" x2="74.5" y2="589.74"/><line x1="70.6" y1="482.62" x2="78.4" y2="482.62"/><line x1="70.6" y1="589.74" x2="78.4" y2="589.74"/></g>
<rect x="70.7" y="531.96" width="7.6" height="7.6" fill="none" stroke="#ee2a24" stroke-width="1.3"/>
<g stroke="#f3813f" stroke-width="1.45" fill="none"><line x1="201.5" y1="489.26" x2="201.5" y2="581.43"/><line x1="197.6" y1="489.26" x2="205.4" y2="489.26"/><line x1="197.6" y1="581.43" x2="205.4" y2="581.43"/></g>
<circle cx="201.5" cy="534.93" r="4.1" fill="#f5620f"/>
<g stroke="#2e3192" stroke-width="1.3" fill="none"><polyline points="45,378 48,378 48,627.1 229,627.1"/>
<line x1="45" y1="378.00" x2="48" y2="378.00"/>
<line x1="45" y1="461.03" x2="48" y2="461.03"/>
<line x1="45" y1="544.07" x2="48" y2="544.07"/>
<line x1="45" y1="627.10" x2="48" y2="627.10"/>
<line x1="74.5" y1="627.1" x2="74.5" y2="630.1"/>
<line x1="110.1" y1="627.1" x2="110.1" y2="630.1"/>
<line x1="164.2" y1="627.1" x2="164.2" y2="630.1"/>
<line x1="201.5" y1="627.1" x2="201.5" y2="630.1"/>
</g>
<text x="43.6" y="381.25" class="tk">3</text>
<text x="43.6" y="464.28" class="tk">2</text>
<text x="43.6" y="547.32" class="tk">1</text>
<text x="43.6" y="630.35" class="tk">0</text>
<text x="72.4" y="644.6" class="xl">Baseline</text>
<text x="72.4" y="653.7" class="xl">mean/error</text>
<text x="112.7" y="649.0" class="xl">Baseline</text>
<text x="162.4" y="649.0" class="xl">1-year</text>
<text x="203.4" y="647.0" class="xl">1-year</text>
<text x="203.4" y="655.7" class="xl">mean/error</text>
<text x="12.3" y="362.3" class="ttl">CHR (Overall n=38)</text>
<line x1="334.9" y1="466.66" x2="388.4" y2="519.05" stroke="#3fb2b6" stroke-width="0.55"/>
<line x1="334.9" y1="482.46" x2="388.4" y2="403.45" stroke="#3fb2b6" stroke-width="0.55"/>
<line x1="334.9" y1="490.78" x2="388.4" y2="507.41" stroke="#3fb2b6" stroke-width="0.55"/>
<line x1="334.9" y1="508.24" x2="388.4" y2="425.90" stroke="#3fb2b6" stroke-width="0.55"/>
<line x1="334.9" y1="516.56" x2="388.4" y2="500.75" stroke="#3fb2b6" stroke-width="0.55"/>
<line x1="334.9" y1="521.55" x2="388.4" y2="430.06" stroke="#3fb2b6" stroke-width="0.55"/>
<line x1="334.9" y1="548.16" x2="388.4" y2="562.30" stroke="#3fb2b6" stroke-width="0.55"/>
<line x1="334.9" y1="550.65" x2="388.4" y2="564.79" stroke="#3fb2b6" stroke-width="0.55"/>
<line x1="334.9" y1="560.63" x2="388.4" y2="556.48" stroke="#3fb2b6" stroke-width="0.55"/>
<line x1="334.9" y1="568.12" x2="388.4" y2="513.23" stroke="#3fb2b6" stroke-width="0.55"/>
<line x1="334.9" y1="568.95" x2="388.4" y2="521.55" stroke="#3fb2b6" stroke-width="0.55"/>
<line x1="334.9" y1="577.27" x2="388.4" y2="564.79" stroke="#3fb2b6" stroke-width="0.55"/>
<line x1="334.9" y1="602.22" x2="388.4" y2="588.08" stroke="#3fb2b6" stroke-width="0.55"/>
<line x1="334.9" y1="610.53" x2="388.4" y2="563.96" stroke="#3fb2b6" stroke-width="0.55"/>
<rect x="332.25" y="464.01" width="5.3" height="5.3" fill="none" stroke="#ea4444" stroke-width="0.7"/>
<rect x="332.25" y="479.81" width="5.3" height="5.3" fill="none" stroke="#ea4444" stroke-width="0.7"/>
<rect x="332.25" y="488.13" width="5.3" height="5.3" fill="none" stroke="#ea4444" stroke-width="0.7"/>
<rect x="332.25" y="505.59" width="5.3" height="5.3" fill="none" stroke="#ea4444" stroke-width="0.7"/>
<rect x="332.25" y="513.91" width="5.3" height="5.3" fill="none" stroke="#ea4444" stroke-width="0.7"/>
<rect x="332.25" y="518.90" width="5.3" height="5.3" fill="none" stroke="#ea4444" stroke-width="0.7"/>
<rect x="332.25" y="545.51" width="5.3" height="5.3" fill="none" stroke="#ea4444" stroke-width="0.7"/>
<rect x="332.25" y="548.00" width="5.3" height="5.3" fill="none" stroke="#ea4444" stroke-width="0.7"/>
<rect x="332.25" y="557.99" width="5.3" height="5.3" fill="none" stroke="#ea4444" stroke-width="0.7"/>
<rect x="332.25" y="565.47" width="5.3" height="5.3" fill="none" stroke="#ea4444" stroke-width="0.7"/>
<rect x="332.25" y="566.30" width="5.3" height="5.3" fill="none" stroke="#ea4444" stroke-width="0.7"/>
<rect x="332.25" y="574.62" width="5.3" height="5.3" fill="none" stroke="#ea4444" stroke-width="0.7"/>
<rect x="332.25" y="599.57" width="5.3" height="5.3" fill="none" stroke="#ea4444" stroke-width="0.7"/>
<rect x="332.25" y="607.88" width="5.3" height="5.3" fill="none" stroke="#ea4444" stroke-width="0.7"/>
<circle cx="388.4" cy="519.05" r="2.8" fill="#f5620f"/>
<circle cx="388.4" cy="403.45" r="2.8" fill="#f5620f"/>
<circle cx="388.4" cy="507.41" r="2.8" fill="#f5620f"/>
<circle cx="388.4" cy="425.90" r="2.8" fill="#f5620f"/>
<circle cx="388.4" cy="500.75" r="2.8" fill="#f5620f"/>
<circle cx="388.4" cy="430.06" r="2.8" fill="#f5620f"/>
<circle cx="388.4" cy="562.30" r="2.8" fill="#f5620f"/>
<circle cx="388.4" cy="564.79" r="2.8" fill="#f5620f"/>
<circle cx="388.4" cy="556.48" r="2.8" fill="#f5620f"/>
<circle cx="388.4" cy="513.23" r="2.8" fill="#f5620f"/>
<circle cx="388.4" cy="521.55" r="2.8" fill="#f5620f"/>
<circle cx="388.4" cy="564.79" r="2.8" fill="#f5620f"/>
<circle cx="388.4" cy="588.08" r="2.8" fill="#f5620f"/>
<circle cx="388.4" cy="563.96" r="2.8" fill="#f5620f"/>
<g stroke="#f25555" stroke-width="1.5" fill="none"><line x1="299.1" y1="496.60" x2="299.1" y2="584.75"/><line x1="295.20000000000005" y1="496.60" x2="303.0" y2="496.60"/><line x1="295.20000000000005" y1="584.75" x2="303.0" y2="584.75"/></g>
<rect x="295.3" y="536.88" width="7.6" height="7.6" fill="none" stroke="#ee2a24" stroke-width="1.3"/>
<g stroke="#f3813f" stroke-width="1.45" fill="none"><line x1="426" y1="457.51" x2="426" y2="573.94"/><line x1="422.1" y1="457.51" x2="429.9" y2="457.51"/><line x1="422.1" y1="573.94" x2="429.9" y2="573.94"/></g>
<circle cx="426" cy="515.73" r="4.2" fill="#f5620f"/>
<g stroke="#2e3192" stroke-width="1.3" fill="none"><polyline points="269.3,378.5 272.3,378.5 272.3,628 452.3,628"/>
<line x1="269.3" y1="378.50" x2="272.3" y2="378.50"/>
<line x1="269.3" y1="461.67" x2="272.3" y2="461.67"/>
<line x1="269.3" y1="544.83" x2="272.3" y2="544.83"/>
<line x1="269.3" y1="628.00" x2="272.3" y2="628.00"/>
<line x1="299.2" y1="628" x2="299.2" y2="631"/>
<line x1="334.9" y1="628" x2="334.9" y2="631"/>
<line x1="388.5" y1="628" x2="388.5" y2="631"/>
<line x1="426" y1="628" x2="426" y2="631"/>
</g>
<text x="267.90000000000003" y="381.75" class="tk">3</text>
<text x="267.90000000000003" y="464.92" class="tk">2</text>
<text x="267.90000000000003" y="548.08" class="tk">1</text>
<text x="267.90000000000003" y="631.25" class="tk">0</text>
<text x="298.8" y="646.7" class="xl">Baseline</text>
<text x="298.8" y="655.5" class="xl">mean/error</text>
<text x="339.5" y="651.3000000000001" class="xl">Baseline</text>
<text x="389" y="651.3000000000001" class="xl">1-year</text>
<text x="430" y="648.5" class="xl">1-year</text>
<text x="430" y="657.6" class="xl">mean/error</text>
<text x="228.8" y="362" class="ttl">CHR-C (n=14)</text>
<line x1="560.3" y1="456.84" x2="614.2" y2="514.27" stroke="#3fb2b6" stroke-width="0.55"/>
<line x1="560.3" y1="490.96" x2="614.2" y2="490.96" stroke="#3fb2b6" stroke-width="0.55"/>
<line x1="560.3" y1="496.79" x2="614.2" y2="520.93" stroke="#3fb2b6" stroke-width="0.55"/>
<line x1="560.3" y1="503.45" x2="614.2" y2="475.15" stroke="#3fb2b6" stroke-width="0.55"/>
<line x1="560.3" y1="504.28" x2="614.2" y2="570.87" stroke="#3fb2b6" stroke-width="0.55"/>
<line x1="560.3" y1="523.43" x2="614.2" y2="515.93" stroke="#3fb2b6" stroke-width="0.55"/>
<line x1="560.3" y1="531.75" x2="614.2" y2="523.43" stroke="#3fb2b6" stroke-width="0.55"/>
<line x1="560.3" y1="531.75" x2="614.2" y2="527.59" stroke="#3fb2b6" stroke-width="0.55"/>
<line x1="560.3" y1="542.57" x2="614.2" y2="584.19" stroke="#3fb2b6" stroke-width="0.55"/>
<line x1="560.3" y1="545.07" x2="614.2" y2="585.85" stroke="#3fb2b6" stroke-width="0.55"/>
<line x1="560.3" y1="548.40" x2="614.2" y2="542.57" stroke="#3fb2b6" stroke-width="0.55"/>
<line x1="560.3" y1="551.73" x2="614.2" y2="568.37" stroke="#3fb2b6" stroke-width="0.55"/>
<line x1="560.3" y1="555.05" x2="614.2" y2="565.04" stroke="#3fb2b6" stroke-width="0.55"/>
<line x1="560.3" y1="557.55" x2="614.2" y2="557.55" stroke="#3fb2b6" stroke-width="0.55"/>
<line x1="560.3" y1="560.05" x2="614.2" y2="575.03" stroke="#3fb2b6" stroke-width="0.55"/>
<line x1="560.3" y1="562.55" x2="614.2" y2="530.92" stroke="#3fb2b6" stroke-width="0.55"/>
<line x1="560.3" y1="565.04" x2="614.2" y2="561.71" stroke="#3fb2b6" stroke-width="0.55"/>
<line x1="560.3" y1="573.37" x2="614.2" y2="563.38" stroke="#3fb2b6" stroke-width="0.55"/>
<line x1="560.3" y1="580.02" x2="614.2" y2="570.04" stroke="#3fb2b6" stroke-width="0.55"/>
<line x1="560.3" y1="585.85" x2="614.2" y2="530.08" stroke="#3fb2b6" stroke-width="0.55"/>
<line x1="560.3" y1="595.01" x2="614.2" y2="595.84" stroke="#3fb2b6" stroke-width="0.55"/>
<line x1="560.3" y1="610.82" x2="614.2" y2="573.37" stroke="#3fb2b6" stroke-width="0.55"/>
<line x1="560.3" y1="545.90" x2="614.2" y2="560.05" stroke="#3fb2b6" stroke-width="0.55"/>
<line x1="560.3" y1="550.06" x2="614.2" y2="572.53" stroke="#3fb2b6" stroke-width="0.55"/>
<rect x="557.65" y="454.19" width="5.3" height="5.3" fill="none" stroke="#ea4444" stroke-width="0.7"/>
<rect x="557.65" y="488.31" width="5.3" height="5.3" fill="none" stroke="#ea4444" stroke-width="0.7"/>
<rect x="557.65" y="494.14" width="5.3" height="5.3" fill="none" stroke="#ea4444" stroke-width="0.7"/>
<rect x="557.65" y="500.80" width="5.3" height="5.3" fill="none" stroke="#ea4444" stroke-width="0.7"/>
<rect x="557.65" y="501.63" width="5.3" height="5.3" fill="none" stroke="#ea4444" stroke-width="0.7"/>
<rect x="557.65" y="520.78" width="5.3" height="5.3" fill="none" stroke="#ea4444" stroke-width="0.7"/>
<rect x="557.65" y="529.10" width="5.3" height="5.3" fill="none" stroke="#ea4444" stroke-width="0.7"/>
<rect x="557.65" y="529.10" width="5.3" height="5.3" fill="none" stroke="#ea4444" stroke-width="0.7"/>
<rect x="557.65" y="539.92" width="5.3" height="5.3" fill="none" stroke="#ea4444" stroke-width="0.7"/>
<rect x="557.65" y="542.42" width="5.3" height="5.3" fill="none" stroke="#ea4444" stroke-width="0.7"/>
<rect x="557.65" y="545.75" width="5.3" height="5.3" fill="none" stroke="#ea4444" stroke-width="0.7"/>
<rect x="557.65" y="549.08" width="5.3" height="5.3" fill="none" stroke="#ea4444" stroke-width="0.7"/>
<rect x="557.65" y="552.40" width="5.3" height="5.3" fill="none" stroke="#ea4444" stroke-width="0.7"/>
<rect x="557.65" y="554.90" width="5.3" height="5.3" fill="none" stroke="#ea4444" stroke-width="0.7"/>
<rect x="557.65" y="557.40" width="5.3" height="5.3" fill="none" stroke="#ea4444" stroke-width="0.7"/>
<rect x="557.65" y="559.90" width="5.3" height="5.3" fill="none" stroke="#ea4444" stroke-width="0.7"/>
<rect x="557.65" y="562.39" width="5.3" height="5.3" fill="none" stroke="#ea4444" stroke-width="0.7"/>
<rect x="557.65" y="570.72" width="5.3" height="5.3" fill="none" stroke="#ea4444" stroke-width="0.7"/>
<rect x="557.65" y="577.37" width="5.3" height="5.3" fill="none" stroke="#ea4444" stroke-width="0.7"/>
<rect x="557.65" y="583.20" width="5.3" height="5.3" fill="none" stroke="#ea4444" stroke-width="0.7"/>
<rect x="557.65" y="592.36" width="5.3" height="5.3" fill="none" stroke="#ea4444" stroke-width="0.7"/>
<rect x="557.65" y="608.17" width="5.3" height="5.3" fill="none" stroke="#ea4444" stroke-width="0.7"/>
<rect x="557.65" y="543.25" width="5.3" height="5.3" fill="none" stroke="#ea4444" stroke-width="0.7"/>
<rect x="557.65" y="547.41" width="5.3" height="5.3" fill="none" stroke="#ea4444" stroke-width="0.7"/>
<circle cx="614.2" cy="514.27" r="2.8" fill="#f5620f"/>
<circle cx="614.2" cy="490.96" r="2.8" fill="#f5620f"/>
<circle cx="614.2" cy="520.93" r="2.8" fill="#f5620f"/>
<circle cx="614.2" cy="475.15" r="2.8" fill="#f5620f"/>
<circle cx="614.2" cy="570.87" r="2.8" fill="#f5620f"/>
<circle cx="614.2" cy="515.93" r="2.8" fill="#f5620f"/>
<circle cx="614.2" cy="523.43" r="2.8" fill="#f5620f"/>
<circle cx="614.2" cy="527.59" r="2.8" fill="#f5620f"/>
<circle cx="614.2" cy="584.19" r="2.8" fill="#f5620f"/>
<circle cx="614.2" cy="585.85" r="2.8" fill="#f5620f"/>
<circle cx="614.2" cy="542.57" r="2.8" fill="#f5620f"/>
<circle cx="614.2" cy="568.37" r="2.8" fill="#f5620f"/>
<circle cx="614.2" cy="565.04" r="2.8" fill="#f5620f"/>
<circle cx="614.2" cy="557.55" r="2.8" fill="#f5620f"/>
<circle cx="614.2" cy="575.03" r="2.8" fill="#f5620f"/>
<circle cx="614.2" cy="530.92" r="2.8" fill="#f5620f"/>
<circle cx="614.2" cy="561.71" r="2.8" fill="#f5620f"/>
<circle cx="614.2" cy="563.38" r="2.8" fill="#f5620f"/>
<circle cx="614.2" cy="570.04" r="2.8" fill="#f5620f"/>
<circle cx="614.2" cy="530.08" r="2.8" fill="#f5620f"/>
<circle cx="614.2" cy="595.84" r="2.8" fill="#f5620f"/>
<circle cx="614.2" cy="573.37" r="2.8" fill="#f5620f"/>
<circle cx="614.2" cy="560.05" r="2.8" fill="#f5620f"/>
<circle cx="614.2" cy="572.53" r="2.8" fill="#f5620f"/>
<g stroke="#f24242" stroke-width="1.35" fill="none"><line x1="524.4" y1="475.98" x2="524.4" y2="592.51"/><line x1="520.5" y1="475.98" x2="528.3" y2="475.98"/><line x1="520.5" y1="592.51" x2="528.3" y2="592.51"/></g>
<rect x="520.6" y="530.45" width="7.6" height="7.6" fill="none" stroke="#ee2a24" stroke-width="1.3"/>
<g stroke="#f36a2a" stroke-width="1.1" fill="none"><line x1="651.4" y1="515.10" x2="651.4" y2="580.02"/><line x1="647.5" y1="515.10" x2="655.3" y2="515.10"/><line x1="647.5" y1="580.02" x2="655.3" y2="580.02"/></g>
<circle cx="651.4" cy="547.56" r="3.9" fill="#f5620f"/>
<g stroke="#2e3192" stroke-width="1.3" fill="none"><polyline points="494.6,378.6 497.6,378.6 497.6,628.3 678.6,628.3"/>
<line x1="494.6" y1="378.60" x2="497.6" y2="378.60"/>
<line x1="494.6" y1="461.83" x2="497.6" y2="461.83"/>
<line x1="494.6" y1="545.07" x2="497.6" y2="545.07"/>
<line x1="494.6" y1="628.30" x2="497.6" y2="628.30"/>
<line x1="524.4" y1="628.3" x2="524.4" y2="631.3"/>
<line x1="560.5" y1="628.3" x2="560.5" y2="631.3"/>
<line x1="614.2" y1="628.3" x2="614.2" y2="631.3"/>
<line x1="651.4" y1="628.3" x2="651.4" y2="631.3"/>
</g>
<text x="493.20000000000005" y="381.85" class="tk">3</text>
<text x="493.20000000000005" y="465.08" class="tk">2</text>
<text x="493.20000000000005" y="548.32" class="tk">1</text>
<text x="493.20000000000005" y="631.55" class="tk">0</text>
<text x="524" y="648.4" class="xl">Baseline</text>
<text x="524" y="657.3000000000001" class="xl">mean/error</text>
<text x="564.6" y="652.7" class="xl">Baseline</text>
<text x="614.4" y="652.7" class="xl">1-year</text>
<text x="654.9" y="650.2" class="xl">1-year</text>
<text x="654.9" y="659.1" class="xl">mean/error</text>
<text x="446.4" y="362.5" class="ttl">CHR-NC (n=24)</text>
<text x="366.1" y="375.8" text-anchor="middle" style="font:bold 11.85px 'Liberation Serif',serif;fill:#111"><tspan font-style="italic">Z</tspan> = 1.726, <tspan font-style="italic">p</tspan> = 0.084</text>
<g stroke="#3b78b0" stroke-width="1.3" fill="none"><polyline points="303.4,408 303.4,384.1 420.8,384.1 420.8,394"/></g>
<path d="M300.6,402 L303.4,410.5 L306.2,402 Z" fill="#3b78b0"/><path d="M418,392 L420.8,397.5 L423.6,392 Z" fill="#3b78b0"/>
<text x="4.5" y="726.2" class="pl" style="font-size:11.7px">(C)</text>
<rect x="258" y="707" width="424" height="155" fill="#f3eef1"/>
<rect x="258" y="873.5" width="424" height="154.5" fill="#f5f9f0"/>
<rect x="257.6" y="701.6" width="195.8" height="330.7" fill="none" stroke="#4d8fd6" stroke-width="1.2"/>
<rect x="487.6" y="702.4" width="195.9" height="330.6" fill="none" stroke="#a5587f" stroke-width="1.2"/>
<text x="351.5" y="693.7" text-anchor="middle" class="hd" style="fill:#3a72b2;font-size:11.5px">Baseline</text>
<text x="580.4" y="693.7" text-anchor="middle" class="hd" style="fill:#c82222;font-size:11.5px">Follow-up</text>
<text x="224.8" y="788.1" text-anchor="middle" class="hd" style="fill:#c82222;font-size:11.7px">CHR-C</text>
<text x="228" y="955.8" text-anchor="middle" class="hd" style="fill:#2a8f6a;font-size:11.7px">CHR-NC</text>
<circle cx="133.9" cy="865.8" r="46.5" fill="none" stroke="#e0763a" stroke-width="12.200000000000003"/>
<circle cx="133.9" cy="865.8" r="46.5" fill="none" stroke="#5b8b3b" stroke-width="12.200000000000003" stroke-dasharray="184.07 292.17" transform="rotate(-90 133.9 865.8)"/>
<line x1="133.90" y1="825.90" x2="133.90" y2="812.70" stroke="#fff" stroke-width="1"/>
<line x1="104.81" y1="893.11" x2="95.19" y2="902.15" stroke="#fff" stroke-width="1"/>
<path d="M75.2,841.5 L91.4,847.2 L86.2,841.5 Z" fill="#fbfbfb" stroke="#c6c6c6" stroke-width="0.6"/>
<rect x="53.3" y="828.5" width="37.40" height="13.00" fill="#fbfbfb" stroke="#c6c6c6" stroke-width="0.75"/>
<path d="M75.8,841.5 L91.4,847.2 L85.60000000000001,841.5 Z" fill="#fbfbfb"/>
<text x="72.0" y="838.7" class="dl">14, 37%</text>
<path d="M183.5,888.5 L176.6,884.5 L191.5,888.5 Z" fill="#fbfbfb" stroke="#c6c6c6" stroke-width="0.6"/>
<rect x="176.6" y="888.5" width="37.40" height="12.80" fill="#fbfbfb" stroke="#c6c6c6" stroke-width="0.75"/>
<path d="M184.1,888.5 L176.6,884.5 L190.9,888.5 Z" fill="#fbfbfb"/>
<text x="195.3" y="898.5" class="dl">24, 63%</text>
<circle cx="360.3" cy="772.7" r="46.5" fill="none" stroke="#e0763a" stroke-width="12.200000000000003"/>
<circle cx="360.3" cy="772.7" r="46.5" fill="none" stroke="#5b8b3b" stroke-width="12.200000000000003" stroke-dasharray="125.63 292.17" transform="rotate(-90 360.3 772.7)"/>
<line x1="360.30" y1="732.80" x2="360.30" y2="719.60" stroke="#f3eef1" stroke-width="1"/>
<line x1="377.29" y1="808.80" x2="382.91" y2="820.75" stroke="#f3eef1" stroke-width="1"/>
<path d="M299.3,777.6 L314.7,783 L306.8,777.6 Z" fill="#fbfbfb" stroke="#c6c6c6" stroke-width="0.6"/>
<rect x="279.2" y="764.4" width="32.40" height="13.20" fill="#fbfbfb" stroke="#c6c6c6" stroke-width="0.75"/>
<path d="M299.90000000000003,777.6 L314.7,783 L306.2,777.6 Z" fill="#fbfbfb"/>
<text x="295.4" y="774.8" class="dl">8, 57%</text>
<path d="M412.5,766.2 L405.5,762.2 L421.3,766.2 Z" fill="#fbfbfb" stroke="#c6c6c6" stroke-width="0.6"/>
<rect x="408.1" y="766.2" width="32.40" height="12.40" fill="#fbfbfb" stroke="#c6c6c6" stroke-width="0.75"/>
<path d="M413.1,766.2 L405.5,762.2 L420.7,766.2 Z" fill="#fbfbfb"/>
<text x="424.3" y="775.8" class="dl">6, 43%</text>
<circle cx="583.6" cy="773.5" r="46.5" fill="none" stroke="#e0763a" stroke-width="12.200000000000003"/>
<circle cx="583.6" cy="773.5" r="46.5" fill="none" stroke="#5b8b3b" stroke-width="12.200000000000003" stroke-dasharray="61.36 292.17" transform="rotate(-90 583.6 773.5)"/>
<line x1="583.60" y1="733.60" x2="583.60" y2="720.40" stroke="#f3eef1" stroke-width="1"/>
<line x1="622.25" y1="763.58" x2="635.03" y2="760.29" stroke="#f3eef1" stroke-width="1"/>
<path d="M618.8,741.2 L613,737.2 L628,741.2 Z" fill="#fbfbfb" stroke="#c6c6c6" stroke-width="0.6"/>
<rect x="615.1" y="741.2" width="32.60" height="12.40" fill="#fbfbfb" stroke="#c6c6c6" stroke-width="0.75"/>
<path d="M619.4,741.2 L613,737.2 L627.4,741.2 Z" fill="#fbfbfb"/>
<text x="631.4" y="750.8" class="dl">3, 21%</text>
<path d="M541.1,804.1 L554.2,809.8 L549,804.1 Z" fill="#fbfbfb" stroke="#c6c6c6" stroke-width="0.6"/>
<rect x="516.6" y="791.4" width="36.90" height="12.70" fill="#fbfbfb" stroke="#c6c6c6" stroke-width="0.75"/>
<path d="M541.7,804.1 L554.2,809.8 L548.4,804.1 Z" fill="#fbfbfb"/>
<text x="535.0" y="801.3" class="dl">11, 79%</text>
<circle cx="359.9" cy="937.5" r="46.5" fill="none" stroke="#e0843a" stroke-width="12.200000000000003"/>
<circle cx="359.9" cy="937.5" r="46.5" fill="none" stroke="#5e953f" stroke-width="12.200000000000003" stroke-dasharray="157.77 292.17" transform="rotate(-90 359.9 937.5)"/>
<line x1="359.90" y1="897.60" x2="359.90" y2="884.40" stroke="#f5f9f0" stroke-width="1"/>
<line x1="349.98" y1="976.15" x2="346.69" y2="988.93" stroke="#f5f9f0" stroke-width="1"/>
<path d="M297.8,926.3 L313.5,931.7 L307.4,926.3 Z" fill="#fbfbfb" stroke="#c6c6c6" stroke-width="0.6"/>
<rect x="275.4" y="913.3" width="37.40" height="13.00" fill="#fbfbfb" stroke="#c6c6c6" stroke-width="0.75"/>
<path d="M298.40000000000003,926.3 L313.5,931.7 L306.79999999999995,926.3 Z" fill="#fbfbfb"/>
<text x="294.1" y="923.5" class="dl">11, 46%</text>
<path d="M410,947.5 L405.9,943.3 L420,947.5 Z" fill="#fbfbfb" stroke="#c6c6c6" stroke-width="0.6"/>
<rect x="405.9" y="947.5" width="37.30" height="13.10" fill="#fbfbfb" stroke="#c6c6c6" stroke-width="0.75"/>
<path d="M410.6,947.5 L405.9,943.3 L419.4,947.5 Z" fill="#fbfbfb"/>
<text x="424.5" y="957.8" class="dl">13, 54%</text>
<circle cx="583.5" cy="938.7" r="46.5" fill="none" stroke="#e0843a" stroke-width="12.200000000000003"/>
<circle cx="583.5" cy="938.7" r="46.5" fill="none" stroke="#5e953f" stroke-width="12.200000000000003" stroke-dasharray="230.81 292.17" transform="rotate(-90 583.5 938.7)"/>
<line x1="583.50" y1="898.80" x2="583.50" y2="885.60" stroke="#f5f9f0" stroke-width="1"/>
<line x1="544.85" y1="928.78" x2="532.07" y2="925.49" stroke="#f5f9f0" stroke-width="1"/>
<path d="M540,896.5 L555.4,901.7 L549.7,896.5 Z" fill="#fbfbfb" stroke="#c6c6c6" stroke-width="0.6"/>
<rect x="520.3" y="883.3" width="32.40" height="13.20" fill="#fbfbfb" stroke="#c6c6c6" stroke-width="0.75"/>
<path d="M540.6,896.5 L555.4,901.7 L549.1,896.5 Z" fill="#fbfbfb"/>
<text x="536.5" y="893.7" class="dl">5, 21%</text>
<path d="M616.6,979.5 L612.3,975.3 L627.2,979.5 Z" fill="#fbfbfb" stroke="#c6c6c6" stroke-width="0.6"/>
<rect x="612.3" y="979.5" width="37.50" height="12.80" fill="#fbfbfb" stroke="#c6c6c6" stroke-width="0.75"/>
<path d="M617.2,979.5 L612.3,975.3 L626.6,979.5 Z" fill="#fbfbfb"/>
<text x="631.0" y="989.5" class="dl">19, 79%</text>
<rect x="100.2" y="941.3000000000001" width="3.8" height="3.8" fill="#5b8b3b"/>
<text x="106.60000000000001" y="946.2" class="lg" textLength="28.5" lengthAdjust="spacingAndGlyphs">CHR-NC</text>
<rect x="143.2" y="941.3000000000001" width="3.8" height="3.8" fill="#e0763a"/>
<text x="149.6" y="946.2" class="lg" textLength="22.7" lengthAdjust="spacingAndGlyphs">CHR-C</text>
<rect x="315.3" y="848.3000000000001" width="3.8" height="3.8" fill="#5b8b3b"/>
<text x="322.3" y="853.2" class="lg" textLength="34.6" lengthAdjust="spacingAndGlyphs">Th1 &gt; Th2</text>
<rect x="367.3" y="848.3000000000001" width="3.8" height="3.8" fill="#e0763a"/>
<text x="374.3" y="853.2" class="lg" textLength="34.9" lengthAdjust="spacingAndGlyphs">Th1 &lt; Th2</text>
<rect x="538.2" y="849.1" width="3.8" height="3.8" fill="#5b8b3b"/>
<text x="545.2" y="854.0" class="lg" textLength="34.6" lengthAdjust="spacingAndGlyphs">Th1 &gt; Th2</text>
<rect x="590.2" y="849.1" width="3.8" height="3.8" fill="#e0763a"/>
<text x="597.2" y="854.0" class="lg" textLength="34.9" lengthAdjust="spacingAndGlyphs">Th1 &lt; Th2</text>
<rect x="315.3" y="1013.3000000000001" width="3.8" height="3.8" fill="#5e953f"/>
<text x="322.3" y="1018.2" class="lg" textLength="34.6" lengthAdjust="spacingAndGlyphs">Th1 &gt; Th2</text>
<rect x="367.3" y="1013.3000000000001" width="3.8" height="3.8" fill="#e0843a"/>
<text x="374.3" y="1018.2" class="lg" textLength="34.9" lengthAdjust="spacingAndGlyphs">Th1 &lt; Th2</text>
<rect x="538.2" y="1014.4" width="3.8" height="3.8" fill="#5e953f"/>
<text x="545.2" y="1019.3" class="lg" textLength="34.6" lengthAdjust="spacingAndGlyphs">Th1 &gt; Th2</text>
<rect x="590.2" y="1014.4" width="3.8" height="3.8" fill="#e0843a"/>
<text x="597.2" y="1019.3" class="lg" textLength="34.9" lengthAdjust="spacingAndGlyphs">Th1 &lt; Th2</text>
<circle cx="27.7" cy="319.5" r="0.6" fill="#b8b8b8"/>
<circle cx="480.6" cy="316.6" r="0.6" fill="#b8b8b8"/>
<circle cx="257.5" cy="636" r="0.6" fill="#b8b8b8"/>
<circle cx="486.5" cy="636.1" r="0.6" fill="#b8b8b8"/>
<circle cx="36" cy="637" r="0.6" fill="#b8b8b8"/>
<circle cx="273" cy="857" r="0.6" fill="#b8b8b8"/>
<circle cx="264.8" cy="1022.9" r="0.6" fill="#b8b8b8"/>
<circle cx="500.5" cy="859.3" r="0.6" fill="#b8b8b8"/>
<circle cx="508.3" cy="1022.6" r="0.6" fill="#b8b8b8"/>
<circle cx="40.6" cy="952" r="0.6" fill="#b8b8b8"/>
</svg></body></html>
